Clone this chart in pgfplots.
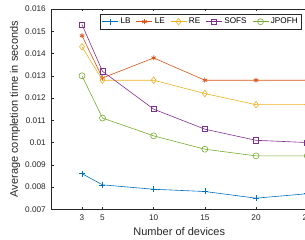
\documentclass[border=0pt]{standalone}
\usepackage{fontspec}
\setmainfont{Liberation Sans}
\usepackage{pgfplots}
\pgfplotsset{compat=1.18}
\definecolor{mB}{rgb}{0,0.447,0.741}
\definecolor{mO}{rgb}{0.85,0.325,0.098}
\definecolor{mY}{rgb}{0.929,0.694,0.125}
\definecolor{mP}{rgb}{0.494,0.184,0.556}
\definecolor{mG}{rgb}{0.466,0.674,0.188}
\definecolor{ax}{rgb}{0.15,0.15,0.15}
\begin{document}
\begin{tikzpicture}
\begin{axis}[
  scale only axis,
  width=255.9pt, height=200.3pt,
  xmin=0, xmax=25, ymin=0.007, ymax=0.016,
  xtick={3,5,10,15,20,25},
  ytick={0.007,0.008,0.009,0.01,0.011,0.012,0.013,0.014,0.015,0.016},
  scaled y ticks=false,
  yticklabel style={/pgf/number format/fixed, /pgf/number format/precision=3, xshift=-2pt},
  /pgf/number format/assume math mode=true,
  tick align=inside,
  major tick length=2.5pt,
  axis line style={ax, line width=0.5pt},
  tick style={ax, line width=0.5pt},
  ticklabel style={font=\fontsize{8.2}{9}\selectfont, text=ax},
  xlabel={Number of devices},
  ylabel={Average completion time in seconds},
  label style={font=\fontsize{11}{12}\selectfont, text=ax},
  xlabel style={at={(axis description cs:0.5,0)}, anchor=base, yshift=-26.4pt},
  ylabel style={at={(axis description cs:0,0.5)}, anchor=base, yshift=33.5pt},
  xticklabel style={yshift=-2pt},
  legend columns=-1,
  legend style={at={(0.9765,0.9735)}, anchor=north east, draw=ax, line width=0.5pt,
    font=\fontsize{8.2}{9.5}\selectfont, inner xsep=1.5pt, inner ysep=1.8pt, outer sep=0pt,
    /tikz/every even column/.append style={column sep=3.5pt}},
  legend image code/.code={\draw[mark repeat=2,mark phase=2] plot coordinates {(0pt,0pt) (8pt,0pt) (16pt,0pt)};},
  every axis plot/.append style={line width=0.6pt},
]
\addplot[mB, mark=+, mark size=3pt] coordinates {(3,0.0086) (5,0.0081) (10,0.0079) (15,0.0078) (20,0.0075) (25,0.0077)};
\addlegendentry{LB}
\addplot[mO, mark=asterisk, mark size=2.5pt, mark options={line width=0.8pt}] coordinates {(3,0.0148) (5,0.0129) (10,0.0138) (15,0.0128) (20,0.0128) (25,0.0128)};
\addlegendentry{LE}
\addplot[mY, mark=diamond, mark size=3.3pt] coordinates {(3,0.0143) (5,0.0128) (10,0.0128) (15,0.0122) (20,0.0117) (25,0.0117)};
\addlegendentry{RE}
\addplot[mP, mark=square, mark size=2.6pt] coordinates {(3,0.0153) (5,0.0132) (10,0.0115) (15,0.0106) (20,0.0101) (25,0.0100)};
\addlegendentry{SOFS}
\addplot[mG, mark=o, mark size=3pt] coordinates {(3,0.0130) (5,0.0111) (10,0.0103) (15,0.0097) (20,0.0094) (25,0.0094)};
\addlegendentry{JPOFH}
\end{axis}
\pgfresetboundingbox
\useasboundingbox (-51.3pt,-30.7pt) rectangle (253.7pt,209.3pt);
\end{tikzpicture}
\end{document}
